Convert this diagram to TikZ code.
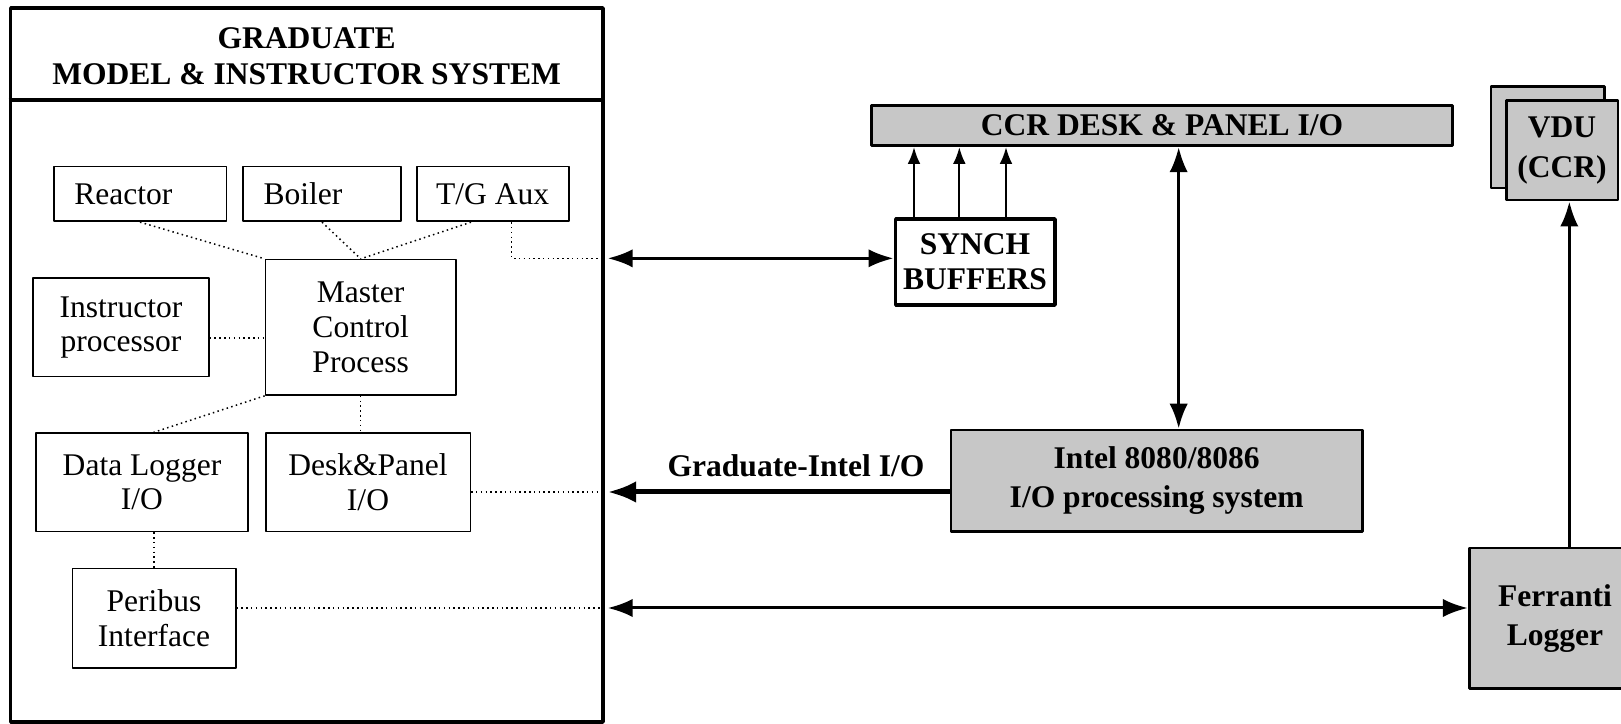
\documentclass[tikz,border=0pt]{standalone}
\usepackage{fontspec}
\setmainfont{Liberation Serif}
\usepackage{tikz}
\usetikzlibrary{arrows}
\usetikzlibrary{arrows.meta}
\usetikzlibrary{positioning}
\usetikzlibrary{calc}
\tikzset{sysbox/.style={draw, rectangle, inner sep=0pt, line width=0.5bp, align=center, font=\fontsize{9.5}{10.4}\selectfont},
  greybox/.style={draw, rectangle, inner sep=0pt, line width=0.8bp, fill=black!22, align=center, font=\bfseries\fontsize{9.5}{11.9}\selectfont},
  link/.style={densely dotted, line width=0.45bp},
  flow/.style={line width=0.9bp},
  small_tip/.style={line width=0.6bp, >={Latex[length=5bp,width=3.8bp]}}}

\begin{document}
\begin{tikzpicture}[>={Latex[length=7.5bp,width=5.5bp]},line join=bevel,]
%%
\useasboundingbox (0,0) rectangle (486.3bp,217.1bp);
\clip (0,0) rectangle (486.3bp,217.1bp);
\node (grad) at (91.95bp,107.6bp) [draw, line width=1.1bp, minimum width=177.7bp, minimum height=214.0bp] {};
  \coordinate (band_line) at (0,187.0bp);
  \draw [line width=1.1bp] (grad.west |- band_line) -- (grad.east |- band_line);
  \node (grad_title) at (92.0bp,200.2bp) [align=center, font=\bfseries\fontsize{9.5}{10.9}\selectfont] {GRADUATE\\MODEL \& INSTRUCTOR SYSTEM};
  \node (reactor) at (42.0bp,158.9bp) [sysbox, align=left, inner xsep=6.2bp, text width=39.4bp, minimum width=51.8bp, minimum height=16.4bp] {Reactor};
  \node (boiler) at (96.6bp,158.9bp) [sysbox, align=left, inner xsep=6.2bp, text width=35.1bp, minimum width=47.5bp, minimum height=16.4bp] {Boiler};
  \node (tg_aux) at (147.8bp,158.9bp) [sysbox, minimum width=45.6bp, minimum height=16.4bp] {T/G Aux};
  \node (master) at (108.2bp,118.9bp) [sysbox, minimum width=57.1bp, minimum height=40.6bp] {Master\\Control\\Process};
  \node (instr) at (36.3bp,118.9bp) [sysbox, minimum width=52.7bp, minimum height=29.5bp] {Instructor\\processor};
  \node (logger_io) at (42.6bp,72.4bp) [sysbox, minimum width=63.6bp, minimum height=29.5bp] {Data Logger\\I/O};
  \node (desk_io) at (110.4bp,72.4bp) [sysbox, minimum width=61.4bp, minimum height=29.5bp] {Desk\&Panel\\I/O};
  \node (peribus) at (46.2bp,31.6bp) [sysbox, minimum width=49.0bp, minimum height=29.8bp] {Peribus\\Interface};
  \coordinate (port_a) at (182.3bp,139.6bp);
  \coordinate (port_b) at (182.3bp,69.5bp);
  \coordinate (port_c) at (182.3bp,34.7bp);
  \draw [link] (reactor.south) -- (master.north west);
  \draw [link] (boiler.south) -- (master.north);
  \draw [link] ([xshift=-6.5bp]tg_aux.south) -- (master.north);
  \draw [link] ([xshift=5.7bp]tg_aux.south) |- (grad.east |- port_a);
  \draw [link] ([yshift=-3.2bp]instr.east) -- ([yshift=-3.2bp]instr.east -| master.west);
  \draw [link] (master.south west) -- ([xshift=3.5bp]logger_io.north);
  \draw [link] (master.south) -- (master.south |- desk_io.north);
  \draw [link] (desk_io.east |- port_b) -- (grad.east |- port_b);
  \draw [link] (logger_io.south -| peribus.north) -- (peribus.north);
  \draw [link] (peribus.east |- port_c) -- (grad.east |- port_c);
%
  \node (ccr) at (348.6bp,179.4bp) [greybox, minimum width=174.3bp, minimum height=12.1bp] {CCR DESK \& PANEL I/O};
  \node (synch) at (292.5bp,138.5bp) [draw, line width=1.1bp, inner sep=0pt, minimum width=47.8bp, minimum height=25.7bp, align=center, font=\bfseries\fontsize{9.5}{10.5}\selectfont] {SYNCH\\BUFFERS};
  \node (intel) at (347.0bp,72.9bp) [greybox, minimum width=123.4bp, minimum height=30.4bp] {Intel 8080/8086\\I/O processing system};
  \node (vdu_back) at (464.3bp,175.9bp) [greybox, minimum width=34.1bp, minimum height=30.4bp] {};
  \node (vdu) at (468.6bp,172.0bp) [greybox, minimum width=33.5bp, minimum height=29.9bp] {VDU\\(CCR)};
  \node (ferranti) at (466.5bp,31.6bp) [greybox, minimum width=51.5bp, minimum height=42.2bp] {Ferranti\\Logger};
  \node (gi_label) at (238.8bp,77.5bp) [font=\bfseries\fontsize{9.5}{10.4}\selectfont] {Graduate-Intel I/O};
  \coordinate (io_link) at (353.6bp,0);
  \coordinate (vdu_feed) at (470.8bp,0);
  \draw [flow, <->] (port_a) -- (port_a -| synch.west);
  \draw [flow, <->] (port_c) -- (port_c -| ferranti.west);
  \draw [line width=1.5bp, ->, >={Latex[length=8.5bp,width=6.5bp]}] (intel.west |- port_b) -- (port_b);
  \draw [flow, <->] (io_link |- intel.north) -- (io_link |- ccr.south);
  \draw [flow, ->] (vdu_feed |- ferranti.north) -- (vdu_feed |- vdu.south);
  \foreach \dx in {-18.3,-4.7,9.3}
    \draw [small_tip, ->] ([xshift=\dx bp]synch.north) -- ([xshift=\dx bp]synch.north |- ccr.south);
%
\end{tikzpicture}
\end{document}
